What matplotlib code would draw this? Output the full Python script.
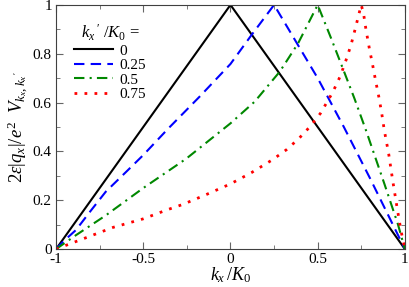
import matplotlib.pyplot as plt
from matplotlib.ticker import MultipleLocator

plt.rcParams['font.family'] = ['Liberation Serif', 'DejaVu Serif']
plt.rcParams['mathtext.fontset'] = 'custom'
plt.rcParams['mathtext.rm'] = 'Liberation Serif'
plt.rcParams['mathtext.it'] = 'Liberation Serif:italic'

# values
kx_0 = [-1, 0, 1]
v_0 = [0, 1, 0]

kx_025 = [-1, -0.95, -0.886, -0.8, -0.715, -0.6, -0.5, -0.359, -0.176, 0, 0.12, 0.25,
          0.4, 0.5, 0.65, 0.8, 0.9, 1]
v_025 = [0, 0.037, 0.078, 0.158, 0.235, 0.315, 0.385, 0.492, 0.625, 0.758, 0.876, 1,
         0.82, 0.70, 0.50, 0.29, 0.145, 0]

kx_05 = [-1, -0.886, -0.715, -0.5, -0.254, 0, 0.139, 0.283, 0.388, 0.5,
         0.577, 0.644, 0.71, 0.777, 0.882, 0.959, 1]
v_05 = [0, 0.057, 0.138, 0.25, 0.37, 0.515, 0.604, 0.727, 0.843, 1,
        0.863, 0.74, 0.618, 0.486, 0.268, 0.104, 0]

kx_075 = [-1, -0.816, -0.673, -0.5, -0.363, -0.273, -0.14, 0, 0.12, 0.241, 0.321,
          0.391, 0.454, 0.516, 0.586, 0.63, 0.663, 0.691, 0.716, 0.739, 0.75,
          0.764, 0.777, 0.796, 0.815, 0.833, 0.852, 0.867, 0.882, 0.907, 0.93,
          0.953, 0.977, 1]
v_075 = [0, 0.05, 0.089, 0.124, 0.161, 0.183, 0.223, 0.267, 0.313, 0.366, 0.407,
         0.452, 0.5, 0.556, 0.642, 0.709, 0.775, 0.836, 0.904, 0.97, 1,
         0.959, 0.898, 0.822, 0.754, 0.686, 0.618, 0.556, 0.486, 0.39, 0.281,
         0.179, 0.077, 0]

xticks = [-1, -0.5, 0, 0.5, 1]
xlabels = ['-1', '-0.5', '0', '0.5', '1']
yticks = [0, 0.2, 0.4, 0.6, 0.8, 1]
ylabels = ['0', '0.2', '0.4', '0.6', '0.8', '1']

fig = plt.figure(figsize=(4.09, 2.87), dpi=100)
ax = fig.add_axes([0.137, 0.132, 0.853, 0.851])

ax.plot(kx_0, v_0, color='black', lw=1.5, label='0')
ax.plot(kx_025, v_025, color='#0000ff', lw=1.5, ls=(0, (5, 3)), label='0.25')
ax.plot(kx_05, v_05, color='#008800', lw=1.5, ls=(0, (5, 2.5, 1, 2.5)), label='0.5')
ax.plot(kx_075, v_075, color='#ff0000', lw=2, ls=(0, (1, 2.6)), label='0.75')

ax.set_xlim(-1, 1)
ax.set_ylim(0, 1)
ax.set_xticks(xticks)
ax.set_xticklabels(xlabels)
ax.set_yticks(yticks)
ax.set_yticklabels(ylabels)
ax.xaxis.set_minor_locator(MultipleLocator(0.25))
ax.yaxis.set_minor_locator(MultipleLocator(0.1))
ax.tick_params(which='both', direction='in', top=True, right=True, labelsize=11,
               color='0.4', pad=3)
ax.tick_params(which='major', length=5)
ax.tick_params(which='minor', length=3)
for s in ax.spines.values():
    s.set_color('0.25')

ax.set_xlabel(r'$k_x\,/K_0$', fontsize=13, labelpad=-1)
ax.set_ylabel(r"$2\varepsilon|q_x|/e^2\ \ V_{k_x,k_x\,'}$", fontsize=13.5, labelpad=2)

leg = ax.legend(title=r"$k_x\,'\ /K_0$ =", loc='upper left', bbox_to_anchor=(0.02, 0.97),
                frameon=False, fontsize=11, title_fontsize=12, handlelength=2.6,
                handletextpad=0.4, labelspacing=0.05, borderpad=0.2)

plt.savefig('out.png', dpi=100)
